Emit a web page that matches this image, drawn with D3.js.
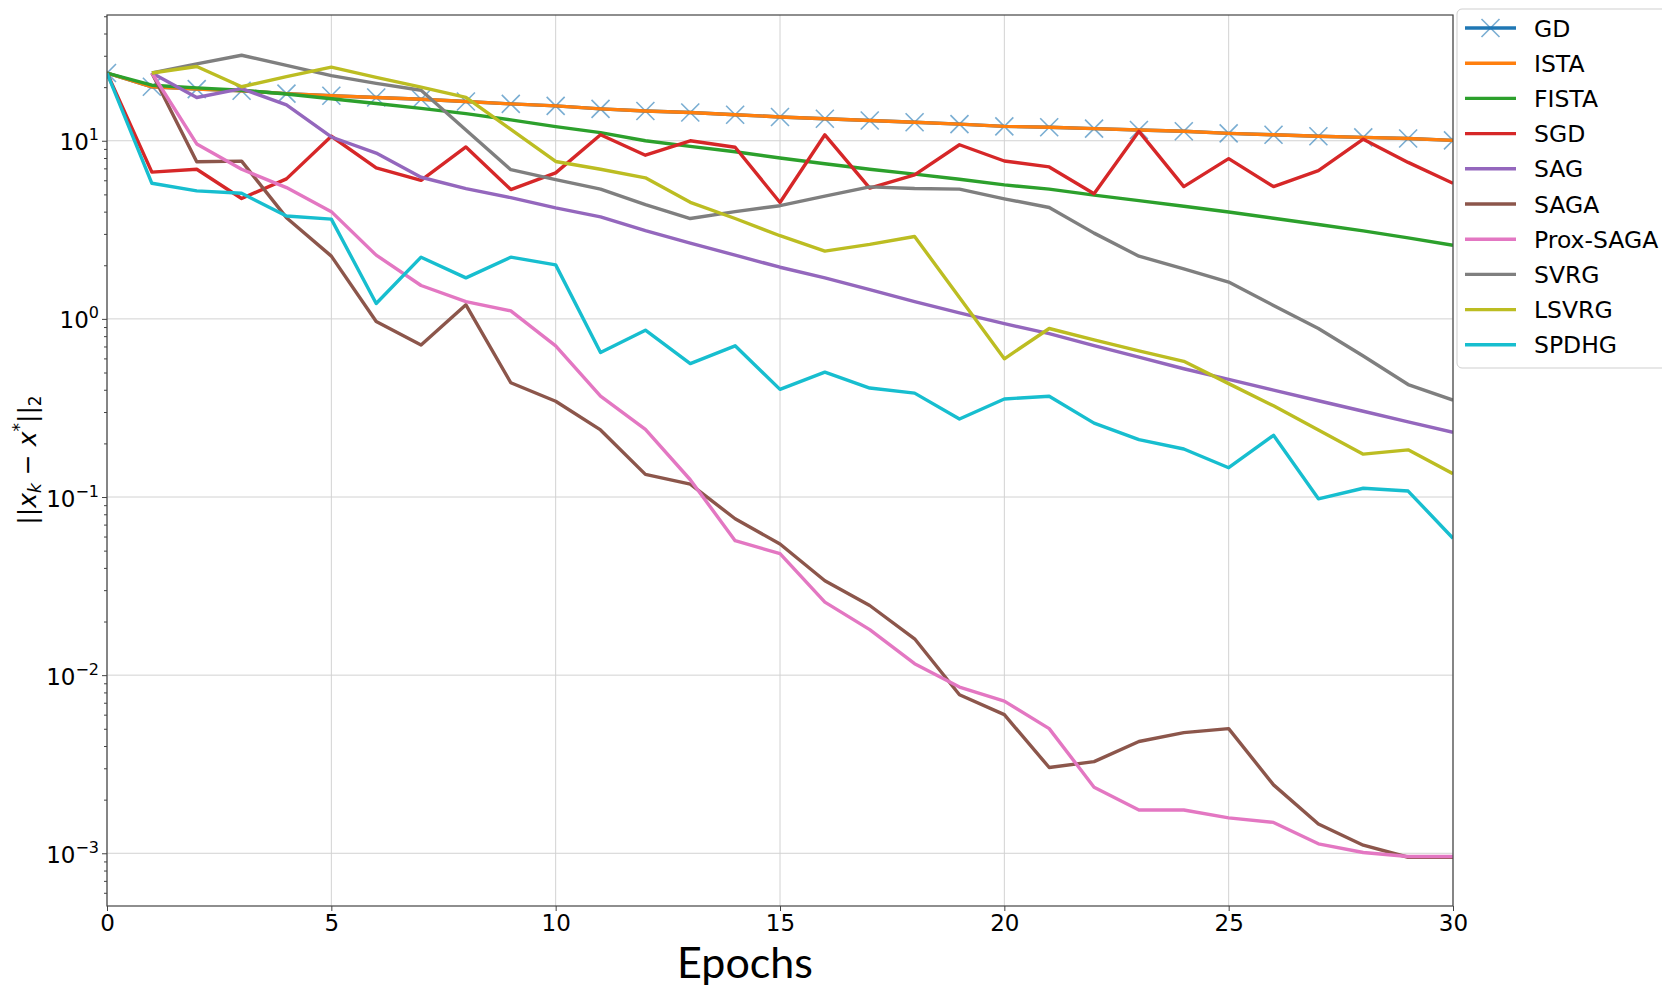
<!DOCTYPE html>
<html>
<head>
<meta charset="utf-8">
<script src="https://cdn.jsdelivr.net/npm/d3@7"></script>
<style>
  body { margin: 0; background: #fff; }
  svg { display: block; font-family: "DejaVu Sans", sans-serif; }
</style>
</head>
<body>
<script>
// epochs (x values)
const epochsAll  = [0,1,2,3,4,5,6,7,8,9,10,11,12,13,14,15,16,17,18,19,20,21,22,23,24,25,26,27,28,29,30];
const epochsLate = [1,2,3,4,5,6,7,8,9,10,11,12,13,14,15,16,17,18,19,20,21,22,23,24,25,26,27,28,29,30];

// ||x_k - x*||_2
const gd      = [24.0,20.1,19.5,19.1,18.4,17.9,17.5,17.1,16.6,16.1,15.7,15.1,14.7,14.4,14.0,13.6,13.3,13.0,12.7,12.4,12.05,11.9,11.7,11.5,11.3,11.0,10.8,10.6,10.45,10.3,10.05];
const ista    = [24.0,20.1,19.5,19.1,18.4,17.9,17.5,17.1,16.6,16.1,15.7,15.1,14.7,14.4,14.0,13.6,13.3,13.0,12.7,12.4,12.05,11.9,11.7,11.5,11.3,11.0,10.8,10.6,10.45,10.3,10.05];
const fista   = [24.0,20.5,19.8,19.2,18.3,17.2,16.2,15.2,14.2,13.1,12.0,11.1,10.0,9.3,8.67,8.0,7.43,6.92,6.5,6.08,5.65,5.35,4.95,4.61,4.29,3.98,3.67,3.39,3.12,2.85,2.59];
const sgd     = [24.0,6.67,6.92,4.74,6.11,10.6,7.04,6.0,9.23,5.32,6.6,10.8,8.3,10.0,9.2,4.5,10.8,5.42,6.44,9.5,7.7,7.13,5.04,11.3,5.53,7.94,5.53,6.79,10.2,7.56,5.77];
const sag     = [24.0,17.5,19.6,15.9,10.5,8.53,6.24,5.39,4.79,4.2,3.74,3.13,2.66,2.28,1.95,1.70,1.46,1.25,1.08,0.94,0.826,0.707,0.61,0.525,0.457,0.398,0.347,0.303,0.264,0.231];
const saga    = [24.0,7.62,7.69,3.70,2.25,0.966,0.713,1.2,0.438,0.345,0.238,0.134,0.118,0.0755,0.0545,0.0339,0.0246,0.0160,0.00776,0.0060,0.00303,0.00327,0.00424,0.00476,0.00501,0.00242,0.00146,0.00111,0.00095,0.00095];
const proxSaga= [24.0,9.6,6.92,5.46,4.0,2.28,1.54,1.25,1.11,0.706,0.368,0.24,0.125,0.0569,0.0481,0.0257,0.0180,0.0116,0.00857,0.00715,0.00501,0.00235,0.00175,0.00175,0.00158,0.00149,0.00113,0.00101,0.00096,0.00096];
const svrg    = [24.0,27.0,30.2,26.5,23.2,21.0,19.2,11.5,6.88,6.05,5.35,4.38,3.66,4.0,4.32,4.89,5.51,5.39,5.35,4.72,4.22,3.03,2.25,1.91,1.61,1.19,0.883,0.619,0.428,0.35];
const lsvrg   = [24.0,26.1,20.1,22.9,25.9,22.7,20.0,17.5,11.6,7.65,6.92,6.19,4.51,3.66,2.93,2.40,2.62,2.90,1.32,0.597,0.883,0.762,0.661,0.578,0.433,0.325,0.238,0.174,0.184,0.135];
const spdhg   = [24.0,5.77,5.23,5.07,3.78,3.63,1.22,2.22,1.70,2.22,2.01,0.647,0.864,0.561,0.706,0.402,0.502,0.409,0.383,0.274,0.355,0.368,0.26,0.21,0.186,0.146,0.222,0.0977,0.112,0.108,0.0587];

const names  = ["GD","ISTA","FISTA","SGD","SAG","SAGA","Prox-SAGA","SVRG","LSVRG","SPDHG"];
const colors = ["#1f77b4","#ff7f0e","#2ca02c","#d62728","#9467bd","#8c564b","#e377c2","#7f7f7f","#bcbd22","#17becf"];
const values = [gd, ista, fista, sgd, sag, saga, proxSaga, svrg, lsvrg, spdhg];
const xsOf   = [epochsAll, epochsAll, epochsAll, epochsAll, epochsLate, epochsLate, epochsLate, epochsLate, epochsLate, epochsAll];

const xTicks = [0,5,10,15,20,25,30];
const yTicks = [1e-3,1e-2,1e-1,1,10];
const yExps  = ["\u22123","\u22122","\u22121","0","1"];

const W = 1662, H = 986;
const plot = {left: 107, right: 1453, top: 15, bottom: 906};

const svg = d3.select("body").append("svg")
    .attr("width", W).attr("height", H);

const x = d3.scaleLinear().domain([0, 30]).range([plot.left, plot.right]);
const y = d3.scaleLog().domain([Math.pow(10, -3.296), Math.pow(10, 1.706)]).range([plot.bottom, plot.top]);

// grid
const grid = svg.append("g").attr("stroke", "#d2d2d2").attr("stroke-width", 1);
grid.selectAll("line.gx").data(xTicks).join("line")
    .attr("x1", d => x(d)).attr("x2", d => x(d))
    .attr("y1", plot.top).attr("y2", plot.bottom);
grid.selectAll("line.gy").data(yTicks).join("line")
    .attr("x1", plot.left).attr("x2", plot.right)
    .attr("y1", d => y(d)).attr("y2", d => y(d));

svg.append("clipPath").attr("id", "clip").append("rect")
    .attr("x", plot.left).attr("y", plot.top)
    .attr("width", plot.right - plot.left).attr("height", plot.bottom - plot.top);

const lines = svg.append("g").attr("clip-path", "url(#clip)");
const line = d3.line().x(d => x(d[0])).y(d => y(d[1]));

// GD x markers drawn with the GD line (under everything else)
const xMark = s => `M${-s},${-s}L${s},${s}M${-s},${s}L${s},${-s}`;

names.forEach((name, i) => {
    const pts = xsOf[i].map((e, j) => [e, values[i][j]]);
    lines.append("path")
        .attr("d", line(pts))
        .attr("fill", "none")
        .attr("stroke", colors[i])
        .attr("stroke-width", 3.4)
        .attr("stroke-linejoin", "round");
    if (i === 0) {
        lines.append("g").selectAll("path").data(pts).join("path")
            .attr("transform", d => `translate(${x(d[0])},${y(d[1])})`)
            .attr("d", xMark(9))
            .attr("fill", "none")
            .attr("stroke", colors[0])
            .attr("stroke-opacity", 0.6)
            .attr("stroke-width", 1.6);
    }
});

// frame
svg.append("rect")
    .attr("x", plot.left).attr("y", plot.top)
    .attr("width", plot.right - plot.left).attr("height", plot.bottom - plot.top)
    .attr("fill", "none").attr("stroke", "#444").attr("stroke-width", 1.2);

// x axis
const xAxis = svg.append("g")
    .attr("transform", `translate(0,${plot.bottom})`)
    .call(d3.axisBottom(x).tickValues(xTicks).tickSize(5).tickPadding(4).tickFormat(d3.format("d")));
xAxis.select(".domain").remove();
xAxis.selectAll("line").attr("stroke", "#444");
xAxis.selectAll("text").attr("font-size", 23).attr("font-family", "DejaVu Sans").attr("fill", "#000");

// y axis, minor ticks then major with 10^n labels
const minor = [];
[-4,-3,-2,-1,0,1].forEach(k => [2,3,4,5,6,7,8,9].forEach(m => {
    const v = m * Math.pow(10, k);
    if (v > y.domain()[0] && v < y.domain()[1]) minor.push(v);
}));
const yMinor = svg.append("g").attr("transform", `translate(${plot.left},0)`)
    .call(d3.axisLeft(y).tickValues(minor).tickSize(3).tickFormat(""));
yMinor.select(".domain").remove();
yMinor.selectAll("line").attr("stroke", "#444");

const yAxis = svg.append("g").attr("transform", `translate(${plot.left},0)`)
    .call(d3.axisLeft(y).tickValues(yTicks).tickSize(5).tickPadding(3).tickFormat(""));
yAxis.select(".domain").remove();
yAxis.selectAll("line").attr("stroke", "#444");
yAxis.selectAll("text").each(function(d, i) {
    const t = d3.select(this).attr("dy", 9).attr("font-size", 23)
        .attr("font-family", "DejaVu Sans").attr("fill", "#000");
    t.append("tspan").text("10");
    t.append("tspan").attr("font-size", 16).attr("dy", -10).text(yExps[yTicks.indexOf(d)]);
});

// y label ||x_k - x*||_2
const yl = svg.append("text")
    .attr("transform", "translate(36,460) rotate(-90)")
    .attr("text-anchor", "middle")
    .attr("font-size", 25).attr("fill", "#000");
yl.append("tspan").text("||");
yl.append("tspan").attr("font-style", "italic").text("x");
yl.append("tspan").attr("font-style", "italic").attr("font-size", 17).attr("dy", 5).text("k");
yl.append("tspan").attr("dy", -5).text(" \u2212 ");
yl.append("tspan").attr("font-style", "italic").text("x");
yl.append("tspan").attr("font-size", 17).attr("dy", -11).text("*");
yl.append("tspan").attr("dy", 11).text("||");
yl.append("tspan").attr("font-size", 17).attr("dy", 5).text("2");

// x label
svg.append("text")
    .attr("x", 745).attr("y", 978)
    .attr("text-anchor", "middle")
    .attr("font-family", "Lato, 'Open Sans', sans-serif")
    .attr("font-size", 43).attr("fill", "#000")
    .text("Epochs");

// legend
const lg = svg.append("g");
lg.append("rect")
    .attr("x", 1457).attr("y", 9).attr("width", 260).attr("height", 359)
    .attr("rx", 5).attr("fill", "#fff").attr("fill-opacity", 0.9)
    .attr("stroke", "#cfcfcf").attr("stroke-width", 1);
names.forEach((name, i) => {
    const ry = 28 + i * 35.2;
    lg.append("line")
        .attr("x1", 1465).attr("x2", 1516).attr("y1", ry).attr("y2", ry)
        .attr("stroke", colors[i]).attr("stroke-width", 3.4);
    if (i === 0) {
        lg.append("path").attr("transform", `translate(1490.5,${ry})`)
            .attr("d", xMark(9)).attr("fill", "none")
            .attr("stroke", colors[0]).attr("stroke-opacity", 0.6).attr("stroke-width", 1.6);
    }
    lg.append("text")
        .attr("x", 1534).attr("y", ry + 8.5)
        .attr("font-size", 23.5).attr("fill", "#000")
        .text(name);
});
</script>
</body>
</html>
